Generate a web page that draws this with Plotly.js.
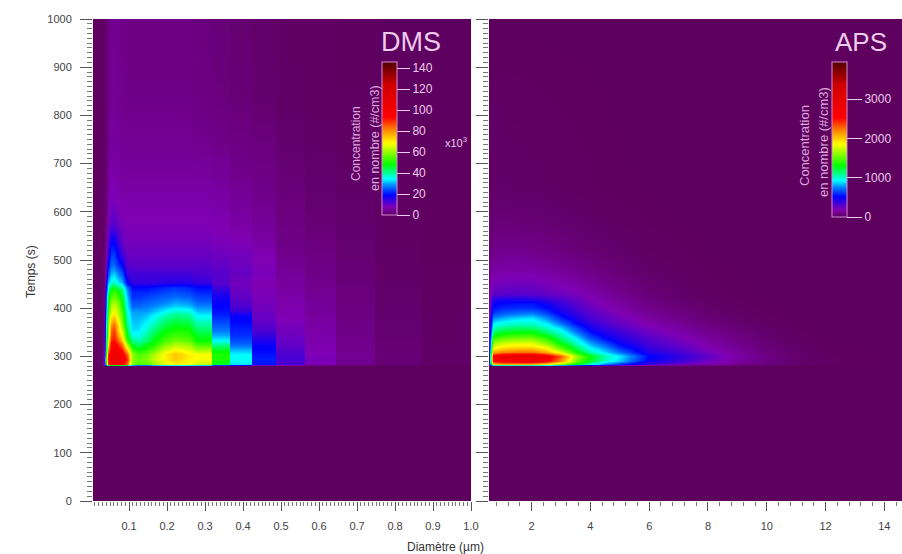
<!DOCTYPE html>
<html><head><meta charset="utf-8">
<script src="https://cdn.plot.ly/plotly-3.0.1.min.js"></script>
<style>html,body{margin:0;padding:0;background:#fff}#g{width:902px;height:554px}</style>
</head><body><div id="g"></div>
<script>
// DMS: sample diameters (um) and times (s); concentration in 10^3 #/cm3, one list per diameter bin.
// Wide bins above 0.3 um are listed at both of their edges, so they stay visible as steps.
const dmsDiameters=[0.005,0.021,0.029,0.0335,0.039,0.0455,0.0525,0.0605,0.07,0.081,0.0935,0.1075,0.124,0.1435,0.166,0.192,0.222,0.2565,0.28,0.3165,0.3175,0.3655,0.3665,0.4225,0.4235,0.4845,0.4855,0.5625,0.5635,0.6445,0.6455,0.7475,0.7485,0.8665,0.8675,1.0];
const dmsTimes=[0,281,284,295,305,315,325,335,345,355,365,375,385,395,405,415,425,435,445,455,470,490,510,535,575,625,675,750,850,1100];
const dmsC1=[0,0,.3,.3,.3,.3,.3,.3,.3,.3,.3,.3,.3,.3,.3,.3,.3,.3,.3,.3,.3,.3,.3,.3,.2,.2,.2,.2,.2,.2];
const dmsC2=[0,0,.5,.5,.5,.5,.5,.5,.5,.5,.5,.5,.5,.5,.5,.5,.5,.5,.5,.5,.5,.5,.5,.4,.4,.4,.4,.3,.3,.3];
const dmsC3=[0,0,1.5,1.5,1.5,1.2,1.2,1.2,1.2,1,1,1,1,1,1,1,1,1,1,.8,.8,.8,.8,.7,.7,.6,.6,.5,.5,.5];
const dmsC4=[0,0,8,8,6,5,5,5,5,4,4,4,4,3,3,3,3,3,2,2,2,1,1,1,1,1,.8,.7,.6,.5];
const dmsC5=[0,0,50,55,48,42,40,38,36,35,34,33,31,29,27,25,23,21,18,15,12,9,7,5,3,2.5,2,1.5,1.5,1];
const dmsC6=[0,0,88,92,88,78,70,65,62,60,58,56,54,52,50,47,44,40,36,30,24,19,15,12,8,6,5,4,3.5,3];
const dmsC7=[0,0,97,103,103,98,95,90,86,84,80,74,68,65,62,58,54,50,44,36,31,26,23,19,11,8,6.5,5.5,4.5,4];
const dmsC8=[0,0,98,105,105,100,97,92,90,88,84,78,72,68,64,60,56,52,46,37,32,26,23,19,11,8,6.5,5.5,4.5,4];
const dmsC9=[0,0,97,103,102,96,90,84,78,74,72,68,64,62,60,56,52,48,42,33,28,22,18,14,9,7,6,5,4.2,3.8];
const dmsC10=[0,0,95,100,98,90,82,74,68,64,60,57,55,53,50,48,45,42,38,30,25,19,14,10,8,6.5,5.5,4.5,4,3.5];
const dmsC11=[0,0,84,90,84,72,60,52,47,44,41,39,37,36,34,33,31,29,26,18,14,11,9.5,8.5,7.5,6.5,5.5,4.5,3.5,3];
const dmsC12=[0,0,58,60,60,52,46,40,36,33,32,31,30,29,26,24,22,21,19,14,13,10.5,9.5,8.5,7.5,6.5,5.5,4.5,3.5,3];
const dmsC13=[0,0,54,56,54,48,42,38,35,33,32,31,30,29,26,24,22,21,19,14,13,10.5,9.5,8.5,7.5,6.5,5.5,4.5,3.5,3];
const dmsC14=[0,0,54,58,56,50,46,42,39,37,35,33,31,29,27,25,23,21,19,14,13,10.5,9.5,8.5,7.5,6.5,5.5,4.5,3.5,3];
const dmsC15=[0,0,60,64,62,55,50,47,45,42,39,36,34,31,28,26,24,22,20,14,13,10.5,9.5,8.5,7.5,6.5,5.5,4.5,3.5,3];
const dmsC16=[0,0,66,69,69,63,57,53,50,47,44,41,38,34,30,27,25,23,21,15,13,10.5,9.5,8.5,7.5,6.5,5.5,4.5,3.5,3];
const dmsC17=[0,0,70,74,75,68,62,57,53,50,47,44,41,37,32,29,26,24,22,15,13,10.5,9.5,8.5,7.5,6.5,5.5,4.5,3.5,3];
const dmsC18=[0,0,68,70,70,65,60,55,52,49,46,43,40,36,31,28,25,23,21,15,13,10.5,9.5,8.5,7.5,6.5,5.5,4.5,3.5,3];
const dmsC19=[0,0,64,68,68,60,53,48,46,43,40,37,34,31,28,25,23,21,19,14,12,10.5,9.5,8.5,7.5,6.5,5.5,4,3,2.5];
const dmsC20=[0,0,46,50,50,46,40,34,30,27,25,23,21,20,19,18,17,15,13,11,11,10,9,8,7,6,5,3.5,2.5,2];
const dmsC21=[0,0,33,35,34,30,26,24,22,21,20,19,18,14,12,11,10,9.5,9,8.5,9.5,9,8.5,7.5,6,5,4,3,2,1.2];
const dmsC22=[0,0,20,21,20,19,18,16,14,12,11,10,9.5,9,8.5,8,8,7.5,7,7,8,7.5,7,6,5,4,3.5,2.5,1.2,.8];
const dmsC23=[0,0,12,12.5,12,11,10,9.5,9,8.5,8,7.5,7,7,6.5,6.5,6,6,5.5,5.5,5,4.5,4,3.5,3,2.5,2,1.2,.7,.4];
const dmsC24=[0,0,7.5,8,7.5,7,7,6.5,6.5,6,6,5.5,5.5,5,5,5,4.5,4.5,4,4,3.5,3.5,3,2.5,2,1.5,1.2,.8,.4,.3];
const dmsC25=[0,0,4,4.5,4.5,4,4,4,3.5,3.5,3.5,3,3,3,3,2.5,2.5,2.5,2.5,2,2,2,1.5,1.5,1.2,1,.7,.4,.3,.2];
const dmsC26=[0,0,1.8,2,2,2,1.8,1.8,1.6,1.6,1.5,1.5,1.4,1.3,1.2,1.2,1.1,1,1,.9,.8,.8,.7,.6,.5,.4,.3,.2,.1,.1];
const dmsC27=[0,0,.6,.7,.7,.7,.6,.6,.6,.6,.5,.5,.5,.5,.4,.4,.4,.4,.3,.3,.3,.3,.2,.2,.2,.1,.1,.1,.1,.1];
const dmsConcentration=[dmsC1,dmsC2,dmsC3,dmsC4,dmsC5,dmsC6,dmsC7,dmsC8,dmsC9,dmsC10,dmsC11,dmsC12,dmsC13,dmsC14,dmsC15,dmsC16,dmsC17,dmsC18,dmsC19,dmsC19,dmsC20,dmsC20,dmsC21,dmsC21,dmsC22,dmsC22,dmsC23,dmsC23,dmsC24,dmsC24,dmsC25,dmsC25,dmsC26,dmsC26,dmsC27,dmsC27];

// APS: sample points; concentration in #/cm3, one list per time
const apsDiameters=[.55,.7,1,1.5,2,2.5,3,3.5,4,4.5,5,5.5,6,7,8,9,10,11,12,14.6];
const apsTimes=[0,281,284,290,300,310,320,330,340,350,360,370,380,390,400,410,420,430,450,480,520,580,650,1000];
const apsConcentration=[
[0,0,0,0,0,0,0,0,0,0,0,0,0,0,0,0,0,0,0,0],
[0,0,0,0,0,0,0,0,0,0,0,0,0,0,0,0,0,0,0,0],
[400,2000,2100,2100,2100,1900,1600,1300,1000,750,600,450,350,250,180,120,70,30,10,0],
[450,2500,2650,2700,2750,2600,2150,1550,1250,1000,850,650,480,360,240,150,80,35,10,0],
[450,2600,2800,2850,2900,2700,2300,1650,1300,1050,900,700,520,400,270,170,90,40,10,0],
[400,2100,2200,2250,2250,2100,1750,1350,1050,880,720,560,430,340,230,140,75,30,8,0],
[350,1800,1900,1950,1950,1800,1450,1150,900,760,580,470,370,290,190,120,60,25,5,0],
[330,1600,1700,1750,1750,1550,1250,1000,780,620,480,400,330,250,160,100,50,20,4,0],
[300,1350,1450,1500,1500,1350,1100,880,650,500,420,350,290,210,140,85,40,15,3,0],
[280,1150,1250,1300,1300,1150,980,740,540,430,360,300,250,180,115,70,30,10,2,0],
[260,1000,1080,1120,1120,1000,850,620,460,370,300,260,210,150,90,55,25,8,0,0],
[240,900,960,1000,1000,900,720,520,400,320,260,220,180,120,70,40,18,5,0,0],
[220,760,820,880,900,780,580,440,340,280,230,190,150,100,55,30,12,3,0,0],
[200,620,680,720,740,640,480,380,300,240,200,160,125,80,40,20,8,0,0,0],
[190,540,580,600,600,530,420,330,260,210,170,135,105,65,30,15,5,0,0,0],
[180,480,520,540,540,470,370,290,230,185,150,115,85,50,22,10,3,0,0,0],
[170,420,440,440,420,370,320,260,205,165,130,100,70,40,18,8,2,0,0,0],
[150,280,300,300,290,270,245,215,175,140,110,85,60,32,14,6,0,0,0,0],
[130,220,235,240,235,220,195,170,140,110,85,65,45,25,10,4,0,0,0,0],
[100,160,170,170,165,150,130,110,90,70,55,40,28,15,6,2,0,0,0,0],
[60,100,105,105,100,90,75,62,50,40,30,22,15,8,3,0,0,0,0,0],
[30,55,58,55,50,45,38,30,24,18,13,10,6,3,0,0,0,0,0,0],
[12,25,26,24,22,18,15,12,9,6,4,3,2,0,0,0,0,0,0,0],
[0,0,0,0,0,0,0,0,0,0,0,0,0,0,0,0,0,0,0,0]];

const dmsTicks=[0.1,0.2,0.3,0.4,0.5,0.6,0.7,0.8,0.9,1.0];
const dmsTickLabels=['0.1','0.2','0.3','0.4','0.5','0.6','0.7','0.8','0.9','1.0'];
const apsTicks=[2,4,6,8,10,12,14];
const timeTicks=[0,100,200,300,400,500,600,700,800,900,1000];

const W=902,H=554;
const px=x=>x/W, py=y=>1-y/H;
const scale=[[0,'#5e005e'],[0.05,'#8000b4'],[0.13,'#0000ff'],[0.19,'#0080ff'],[0.235,'#00ffff'],[0.33,'#00ff00'],[0.47,'#ffff00'],[0.56,'#ff8000'],[0.64,'#ff0000'],[0.85,'#d00000'],[1,'#500000']];
const pink='#eccbec', tickC='#555';
const cb=(x,top,len,dtick,tl)=>({x:px(x),xanchor:'left',xpad:0,y:py(top),yanchor:'top',ypad:0,len:len/H,lenmode:'fraction',thickness:15,thicknessmode:'pixels',
  outlinecolor:'#d48ad4',outlinewidth:1,ticks:'outside',ticklen:tl,tickwidth:1,tickcolor:pink,tick0:0,dtick:dtick,
  tickfont:{family:'Liberation Sans',size:12,color:pink}});
const traces=[
 {type:'heatmap',x:dmsDiameters,y:dmsTimes,z:dmsConcentration,transpose:true,zmin:0,zmax:146,zsmooth:'best',colorscale:scale,xaxis:'x',yaxis:'y',hoverinfo:'skip',colorbar:cb(382,62,153,20,13)},
 {type:'heatmap',x:apsDiameters,y:apsTimes,z:apsConcentration,zmin:0,zmax:3950,zsmooth:'best',colorscale:scale,xaxis:'x2',yaxis:'y2',hoverinfo:'skip',colorbar:cb(832,62,155,1000,15)}
];
const axCommon={showgrid:false,zeroline:false,showline:false,ticks:'outside',tickcolor:tickC,tickwidth:1,ticklen:9,
  tickfont:{family:'Liberation Sans',size:11,color:'#444'},layer:'above traces'};
const note=(text,x,y,size,angle,color)=>({text,xref:'paper',yref:'paper',x:px(x),y:py(y),xanchor:'center',yanchor:'middle',showarrow:false,textangle:angle||0,
  font:{family:'Liberation Sans',size,color:color||pink}});
const layout={width:W,height:H,margin:{l:0,r:0,t:0,b:0},paper_bgcolor:'#fff',plot_bgcolor:'#fff',showlegend:false,
 xaxis:{...axCommon,domain:[px(93),px(471)],range:[0.005,1.0],tickvals:dmsTicks,ticktext:dmsTickLabels,ticklabelstandoff:6,minor:{dtick:0.01,ticks:'outside',ticklen:4,tickcolor:'#777',tickwidth:1},anchor:'y'},
 yaxis:{...axCommon,domain:[py(501),py(19)],range:[0,1000],tickvals:timeTicks,ticklen:12,ticklabelstandoff:6,minor:{dtick:10,ticks:'outside',ticklen:5,tickcolor:'#777',tickwidth:1},anchor:'x'},
 xaxis2:{...axCommon,domain:[px(489),1],range:[0.55,14.6],tickvals:apsTicks,ticklabelstandoff:6,minor:{dtick:0.4,ticks:'outside',ticklen:4,tickcolor:'#777',tickwidth:1},anchor:'y2'},
 yaxis2:{...axCommon,domain:[py(501),py(19)],range:[0,1000],tickvals:timeTicks,showticklabels:false,ticklen:12,minor:{dtick:10,ticks:'outside',ticklen:5,tickcolor:'#777',tickwidth:1},anchor:'x2'},
 annotations:[
  note('DMS',411,42,27),note('APS',861,42,26),
  note('x10<sup>3</sup>',456,142,11),
  note('Concentration',356,144,12,-90,'#dca8dc'),note('en nombre (#/cm3)',375,138,12.5,-90,'#dca8dc'),
  note('Concentration',805,146,13,-90,'#dca8dc'),note('en nombre (#/cm3)',823,142,13,-90,'#dca8dc'),
  note('Temps (s)',31,272,12,-90,'#333'),note('Diamètre (µm)',445,547,12,0,'#333')
 ]};
Plotly.newPlot('g',traces,layout,{staticPlot:true,displayModeBar:false});
</script></body></html>
